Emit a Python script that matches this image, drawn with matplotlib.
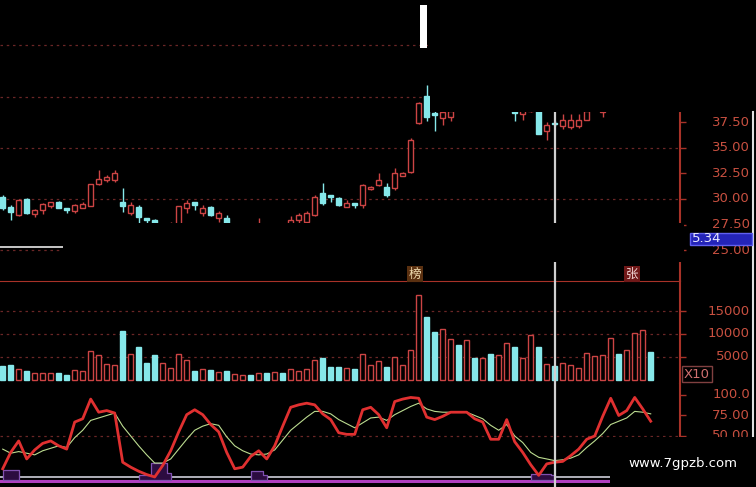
import matplotlib.pyplot as plt
from matplotlib.patches import Rectangle
from matplotlib.lines import Line2D
import matplotlib.transforms as mtransforms
import numpy as np

W, H = 756, 487
RED = "#cc4444"
CYAN = "#86e8ea"
AXIS = "#a83228"
LABEL = "#c85040"
GRID = "#6a2626"

# daily candles (price units)
opens = [30.22, 29.25, 28.44, 30.0, 28.53, 28.93, 29.3, 29.74, 29.15, 28.83,
         29.15, 29.32, 31.43, 31.86, 31.86, 29.74, 28.6, 29.25, 28.1, 27.95,
         26.9, 26.8, 27.0, 29.1, 29.74, 28.6, 29.2, 28.1, 28.1, 27.0,
         26.9, 27.2, 27.0, 27.4, 27.0, 27.4, 27.2, 27.9, 27.8, 28.44,
         30.55, 30.4, 30.07, 29.25, 29.6, 29.4, 30.95, 31.37, 31.2, 31.07,
         32.25, 32.67, 37.4, 40.1, 38.4, 37.9, 38.0, 39.2, 39.4, 40.0,
         39.0, 39.8, 38.9, 39.3, 39.5, 38.3, 38.6, 38.6, 36.6, 37.4,
         37.1, 37.0, 37.1, 37.7, 38.8, 38.5, 39.0, 40.3, 39.7, 40.3,
         41.2, 42.0]
closes = [29.09, 28.76, 29.9, 28.66, 28.9, 29.48, 29.68, 29.15, 28.93, 29.41,
          29.5, 31.43, 31.92, 32.18, 32.5, 29.35, 29.4, 28.27, 27.9, 27.7,
          27.2, 27.3, 29.3, 29.64, 29.4, 29.1, 28.44, 28.6, 27.6, 27.3,
          27.2, 26.9, 27.6, 27.0, 27.4, 27.1, 27.9, 28.44, 28.66, 30.22,
          29.58, 30.22, 29.4, 29.58, 29.4, 31.37, 31.2, 31.86, 30.4, 32.5,
          32.5, 35.76, 39.4, 38.05, 38.2, 38.5, 38.6, 38.9, 40.0, 39.6,
          39.6, 39.5, 39.3, 40.0, 38.4, 38.8, 39.3, 36.35, 37.2, 37.3,
          37.7, 37.7, 37.7, 38.6, 39.3, 39.0, 40.1, 39.7, 40.3, 41.3,
          42.0, 41.4]
highs = [30.4, 29.4, 29.95, 30.1, 29.0, 29.64, 29.74, 29.8, 29.15, 29.5,
         29.7, 31.5, 32.83, 32.34, 32.83, 31.04, 29.74, 29.4, 28.1, 28.0,
         27.5, 27.8, 29.35, 29.9, 29.74, 29.4, 29.3, 28.8, 28.4, 27.5,
         27.4, 27.3, 28.1, 27.5, 27.5, 27.5, 28.3, 28.6, 28.8, 30.4,
         31.6, 30.4, 30.2, 29.9, 29.6, 31.5, 31.3, 32.5, 31.6, 33.0,
         32.6, 36.0, 39.5, 41.1, 38.6, 39.6, 39.8, 39.8, 40.5, 40.3,
         40.0, 40.2, 39.6, 40.4, 39.6, 39.4, 39.6, 39.0, 37.5, 37.6,
         38.3, 38.3, 38.3, 39.0, 39.6, 39.5, 40.4, 40.6, 40.8, 41.6,
         42.4, 42.3]
lows = [28.9, 27.95, 28.3, 28.5, 28.27, 28.5, 29.1, 29.1, 28.6, 28.6,
        29.15, 29.3, 31.4, 31.7, 31.7, 28.76, 28.43, 27.7, 27.7, 27.3,
        26.6, 26.6, 26.9, 28.6, 28.9, 28.3, 28.3, 27.8, 27.4, 26.7,
        26.6, 26.6, 26.9, 26.8, 26.9, 26.9, 27.1, 27.6, 27.7, 28.3,
        29.4, 29.74, 29.3, 29.2, 29.1, 29.1, 30.9, 31.27, 30.2, 30.9,
        32.2, 32.5, 37.3, 37.6, 36.6, 37.2, 37.6, 38.6, 39.3, 39.4,
        38.6, 39.3, 38.6, 39.2, 37.6, 37.7, 38.5, 36.3, 35.8, 37.1,
        36.8, 36.8, 36.9, 37.7, 38.6, 38.0, 38.9, 39.4, 39.5, 40.0,
        41.0, 41.2]
volumes = [3000, 3250, 2300, 2000, 1450, 1450, 1450, 1450, 1100, 2100,
           1900, 6200, 5400, 3500, 3200, 10700, 5700, 7100, 3600, 5500,
           3600, 2700, 5700, 4350, 2000, 2300, 2200, 1800, 2050, 1250,
           1000, 1100, 1450, 1600, 1750, 1600, 2300, 2000, 2300, 4300,
           4850, 2750, 2750, 2600, 2300, 5650, 3200, 4100, 2800, 5000,
           3300, 6450, 18500, 13800, 10500, 11000, 9000, 7600, 8600, 4850,
           4850, 5650, 5500, 8000, 7250, 4800, 9800, 7250, 3500, 3000,
           3800, 3300, 2550, 5800, 5200, 5350, 9100, 5650, 6500, 10300,
           10850, 6150]
# KDJ-style oscillator
k_line = [10, 30, 44, 22, 33, 41, 44, 38, 34, 67,
          71, 95, 79, 81, 78, 18, 12, 7, 3, 0,
          14, 32, 55, 76, 82, 76, 64, 55, 30, 10,
          12, 25, 32, 22, 38, 62, 85, 88, 90, 88,
          77, 70, 54, 52, 52, 82, 85, 76, 60, 92,
          95, 97, 96, 73, 70, 74, 79, 79, 79, 71,
          67, 46, 46, 70, 43, 30, 15, 2, 16, 18,
          19, 26, 34, 46, 50, 74, 96, 75, 81, 97,
          83, 68]
d_line = [34, 29, 31, 29, 27, 32, 35, 38, 36, 48,
          57, 69, 72, 75, 78, 62, 50, 38, 27, 17,
          17, 22, 34, 46, 57, 62, 65, 63, 49, 38,
          32, 28, 27, 28, 33, 45, 57, 65, 73, 80,
          80, 77, 70, 65, 60, 66, 72, 73, 69, 76,
          81, 86, 90, 83, 80, 79, 79, 79, 79, 75,
          71, 63, 57, 64, 50, 42, 30, 24, 22, 20,
          21, 23, 27, 36, 44, 53, 64, 68, 72, 80,
          79, 77]
signal = [8, 8, 8, 0, 0, 0, 0, 0, 0, 0, 0, 0, 0, 0, 0, 0, 0, 3, 3, 17,
          17, 5, 0, 0, 0, 0, 0, 0, 0, 0, 0, 7, 7, 3, 0, 0, 0, 0, 0, 0,
          0, 0, 0, 0, 0, 0, 0, 0, 0, 0, 0, 0, 0, 0, 0, 0, 0, 0, 0, 0,
          0, 0, 0, 0, 0, 0, 4, 4, 4, 2, 0, 0, 0, 0, 0, 0, 0, 0, 0, 0,
          0, 0]

cursor_idx = 69
price_ticks = [25, 27.5, 30, 32.5, 35, 37.5, 40, 42.5, 45, 47.5]
price_grid = [25, 30, 35, 40, 45]
vol_ticks = [5000, 10000, 15000]
kdj_ticks = [50, 75, 100]
kdj_labels = ["50.00", "75.00", "100.0"]
base_line = 25.31


def frac(l, t, r, b):
    return [l / W, 1 - b / H, (r - l) / W, (b - t) / H]


fig = plt.figure(figsize=(W / 100, H / 100), dpi=100, facecolor="black")
x = np.arange(len(opens))
up = np.array(closes) >= np.array(opens)

ax1 = fig.add_axes(frac(0, 0, 680, 281))
ax2 = fig.add_axes(frac(0, 281, 680, 384))
ax3 = fig.add_axes(frac(0, 384, 680, 487))
ax1.set_ylim(21.99, 49.43)
ax2.set_ylim(-870, 21522)
ax3.set_ylim(-12.2, 113.4)

for ax in (ax1, ax2, ax3):
    ax.set_facecolor("black")
    ax.set_xlim(-0.3375, 84.66)
    for s in ax.spines.values():
        s.set_visible(False)
    ax.spines["right"].set_visible(True)
    ax.spines["right"].set_color(AXIS)
    ax.spines["right"].set_linewidth(1.5)
    ax.set_xticks([])
    ax.tick_params(axis="y", left=False, right=True, labelleft=False,
                   labelright=False, color=AXIS, length=4, width=1)
    ax.axvline(cursor_idx, color="#d0d0d0", lw=1.6, zorder=6)
ax2.spines["top"].set_visible(True)
ax2.spines["top"].set_color(AXIS)

# price panel
for g in price_grid:
    ax1.axhline(g, color=GRID, lw=0.9, ls=(0, (2, 3)), zorder=1)
ax1.hlines(base_line, -0.34, 7.54, color="#e8e8e8", lw=1.2, zorder=2)
hi_body = np.maximum(opens, closes)
lo_body = np.minimum(opens, closes)
ax1.vlines(x, lows, highs, colors=[RED if u else CYAN for u in up], lw=1, zorder=2)
ax1.bar(x, np.maximum(hi_body - lo_body, 0.05), bottom=lo_body, width=0.6,
        facecolor=["black" if u else CYAN for u in up],
        edgecolor=[RED if u else CYAN for u in up], lw=1, zorder=3)
ax1.set_yticks(price_ticks)

# volume panel
for g in vol_ticks:
    ax2.axhline(g, color=GRID, lw=0.9, ls=(0, (2, 3)), zorder=1)
ax2.bar(x, volumes, width=0.6,
        facecolor=["black" if u else CYAN for u in up],
        edgecolor=[RED if u else CYAN for u in up], lw=1, zorder=3)
ax2.set_yticks(vol_ticks)

# oscillator panel
ax3.axhline(50, color=GRID, lw=0.9, ls=(0, (2, 3)), zorder=1)
ax3.axhline(0, color="#e0e0ec", lw=1.1, zorder=2)
ax3.axhline(-5, color="#b040c0", lw=2.2, zorder=2)
ax3.fill_between(x, -4, signal, step="mid", where=np.array(signal) > 0,
                 facecolor="#2c0c40", edgecolor="#8050b0", lw=0.9, zorder=3)
ax3.plot(x, d_line, color="#bcdc90", lw=0.8, zorder=4)
ax3.plot(x, k_line, color="#e03030", lw=2.0, zorder=5)
ax3.set_yticks(kdj_ticks)

# right-hand labels
for ax, ticks, labels in ((ax1, price_ticks, ["%.2f" % t for t in price_ticks]),
                          (ax2, vol_ticks, [str(t) for t in vol_ticks]),
                          (ax3, kdj_ticks, kdj_labels)):
    tr = mtransforms.blended_transform_factory(fig.transFigure, ax.transData)
    for t, lab in zip(ticks, labels):
        ax.text(750 / W, t, lab, transform=tr, ha="right", va="center",
                color=LABEL, fontsize=9.5, clip_on=False)

fig.text(684 / W, 1 - 374 / H, "X10", color="#d07070", fontsize=9.5,
         va="center", ha="left",
         bbox=dict(facecolor="black", edgecolor="#804040", pad=1.2, lw=1))

for xp, ch, fc, tc in ((415, "榜", "#5a3010", "#f0dcb0"), (632, "张", "#701818", "#f4d8d8")):
    fig.text(xp / W, 1 - 274 / H, ch, color=tc, fontsize=9, ha="center",
             va="center", family=["Noto Sans CJK SC", "DejaVu Sans"],
             bbox=dict(facecolor=fc, edgecolor="none", pad=1))

# masked areas of the screenshot
def block(l, t, r, b, color, z=10):
    fig.add_artist(Rectangle((l / W, 1 - b / H), (r - l) / W, (b - t) / H,
                             transform=fig.transFigure, facecolor=color,
                             edgecolor="none", zorder=z))

block(430, 0, W, 112, "black")
block(63, 223, 684, 262, "black")
block(420, 5, 427, 48, "white", 11)
fig.add_artist(Line2D([753 / W, 753 / W], [1 - 112 / H, 1 - 437 / H],
                      transform=fig.transFigure, color="#e0e0e0", lw=1.5, zorder=11))

fig.add_artist(Rectangle((690 / W, 1 - 245 / H), 62 / W, 12 / H,
                         transform=fig.transFigure, facecolor="#2424b8",
                         edgecolor="#6060f0", lw=1, zorder=11))
fig.text(692 / W, 1 - 239 / H, "5.34", color="#e8e8ff", fontsize=9.5,
         ha="left", va="center", zorder=12)

block(610, 437, W, H, "black", 11)
fig.text(683 / W, 1 - 463 / H, "www.7gpzb.com", color="white", fontsize=9.5,
         ha="center", va="center", zorder=12)

fig.savefig("out.png", dpi=100, facecolor="black")
